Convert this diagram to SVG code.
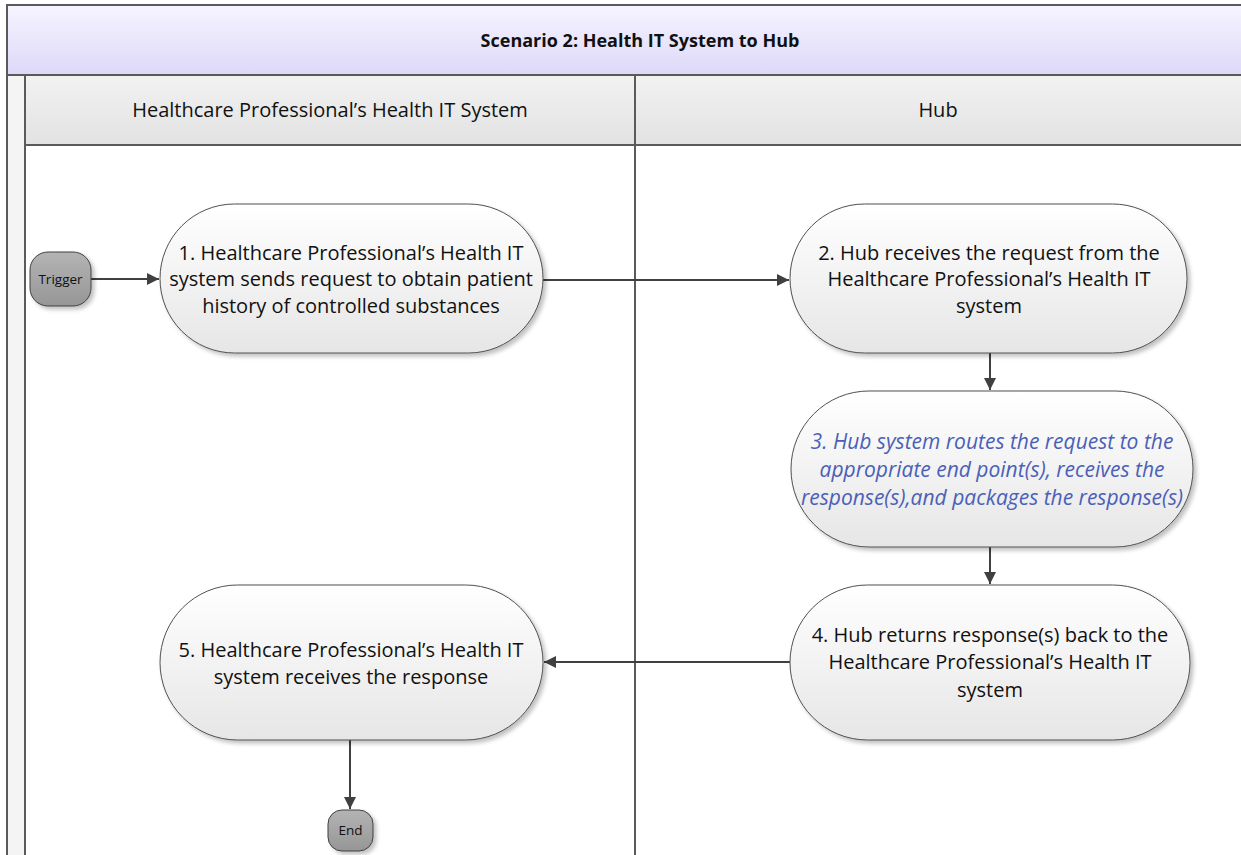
<svg xmlns="http://www.w3.org/2000/svg" width="1241" height="855" viewBox="0 0 1241 855">
<style>
.lane{stroke:#5a5a5a;stroke-width:2;}
.node{fill:url(#ng);stroke:#505050;stroke-width:1;}
.term{fill:url(#tg);stroke:#404040;stroke-width:1;}
.t{font-family:"Open Sans","Liberation Sans",sans-serif;font-size:20px;fill:#111;text-anchor:middle;}
.ti{font-family:"Open Sans","Liberation Sans",sans-serif;font-size:21px;fill:#4a60b8;font-style:italic;text-anchor:middle;}
.small{font-family:"Open Sans","Liberation Sans",sans-serif;font-size:13.5px;fill:#111;text-anchor:middle;}
.conn{stroke:#404040;stroke-width:2;fill:none;marker-end:url(#arr);}
</style>
<defs>
<linearGradient id="title" x1="0" y1="0" x2="0" y2="1"><stop offset="0" stop-color="#f6f5ff"/><stop offset="1" stop-color="#ddd8f8"/></linearGradient>
<linearGradient id="hdr" x1="0" y1="0" x2="0" y2="1"><stop offset="0" stop-color="#f2f2f2"/><stop offset="1" stop-color="#e2e2e2"/></linearGradient>
<linearGradient id="ng" x1="0" y1="0" x2="0" y2="1"><stop offset="0" stop-color="#ffffff"/><stop offset="1" stop-color="#e6e6e6"/></linearGradient>
<linearGradient id="tg" x1="0" y1="0" x2="0" y2="1"><stop offset="0" stop-color="#b4b4b4"/><stop offset="1" stop-color="#969696"/></linearGradient>
<filter id="sh" x="-10%" y="-10%" width="130%" height="130%"><feGaussianBlur in="SourceAlpha" stdDeviation="2"/><feOffset dx="3" dy="3"/><feComponentTransfer><feFuncA type="linear" slope="0.25"/></feComponentTransfer><feMerge><feMergeNode/><feMergeNode in="SourceGraphic"/></feMerge></filter>
<marker id="arr" viewBox="0 0 10 10" refX="10" refY="5" markerWidth="6" markerHeight="6" markerUnits="strokeWidth" orient="auto"><path d="M0,0 L10,5 L0,10 z" fill="#404040"/></marker>
</defs>

<g id="pool">
<rect x="7" y="5" width="1240" height="70" fill="url(#title)" class="lane"/>
<text x="640" y="47" font-family="Open Sans,Liberation Sans,sans-serif" font-size="18" font-weight="bold" text-anchor="middle" fill="#111">Scenario 2: Health IT System to Hub</text>
<rect x="7" y="75" width="18" height="790" fill="#f4f4f4" class="lane"/>
<rect x="25" y="75" width="1222" height="70" fill="url(#hdr)" class="lane"/>
<line x1="635" y1="75" x2="635" y2="855" class="lane"/>
<text x="330" y="117" class="t">Healthcare Professional’s Health IT System</text>
<text x="938" y="117" class="t">Hub</text>
</g>

<g id="connectors">
<line x1="91" y1="279" x2="159" y2="279" class="conn"/>
<line x1="543" y1="280" x2="789" y2="280" class="conn"/>
<line x1="990" y1="353" x2="990" y2="390" class="conn"/>
<line x1="990" y1="547" x2="990" y2="584" class="conn"/>
<line x1="790" y1="662" x2="544" y2="662" class="conn"/>
<line x1="350" y1="740" x2="350" y2="809" class="conn"/>
</g>

<g id="trigger">
<rect x="30" y="252" width="61" height="54" rx="18" ry="18" class="term" filter="url(#sh)"/>
<text x="60.5" y="284" class="small">Trigger</text>
</g>

<g id="node1">
<rect x="160" y="204" width="383" height="149" rx="74.5" ry="74.5" class="node" filter="url(#sh)"/>
<text class="t"><tspan x="351" y="260">1. Healthcare Professional’s Health IT</tspan><tspan x="351" y="286">system sends request to obtain patient</tspan><tspan x="351" y="313">history of controlled substances</tspan></text>
</g>

<g id="node2">
<rect x="790" y="204" width="397" height="149" rx="74.5" ry="74.5" class="node" filter="url(#sh)"/>
<text class="t"><tspan x="989" y="260">2. Hub receives the request from the</tspan><tspan x="989" y="286">Healthcare Professional’s Health IT</tspan><tspan x="989" y="313">system</tspan></text>
</g>

<g id="node3">
<rect x="791" y="391" width="402" height="156" rx="78" ry="78" class="node" filter="url(#sh)"/>
<text class="ti"><tspan x="992" y="449">3. Hub system routes the request to the</tspan><tspan x="992" y="477">appropriate end point(s), receives the</tspan><tspan x="992" y="505">response(s),and packages the response(s)</tspan></text>
</g>

<g id="node4">
<rect x="790" y="585" width="400" height="155" rx="77.5" ry="77.5" class="node" filter="url(#sh)"/>
<text class="t"><tspan x="990" y="642">4. Hub returns response(s) back to the</tspan><tspan x="990" y="669">Healthcare Professional’s Health IT</tspan><tspan x="990" y="697">system</tspan></text>
</g>

<g id="node5">
<rect x="160" y="585" width="383" height="155" rx="77.5" ry="77.5" class="node" filter="url(#sh)"/>
<text class="t"><tspan x="351" y="657">5. Healthcare Professional’s Health IT</tspan><tspan x="351" y="684">system receives the response</tspan></text>
</g>

<g id="end">
<rect x="328" y="810" width="45" height="41" rx="14" ry="14" class="term" filter="url(#sh)"/>
<text x="350.5" y="835" class="small">End</text>
</g>
</svg>
